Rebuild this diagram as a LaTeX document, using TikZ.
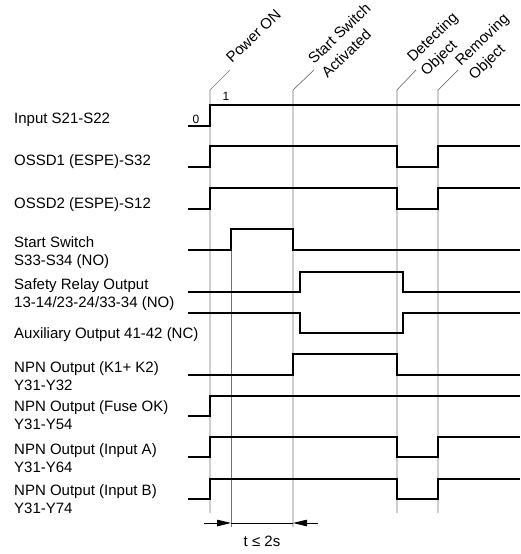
\documentclass[tikz,border=0pt]{standalone}
\usepackage{fontspec}
\setmainfont{Liberation Sans}
\usetikzlibrary{arrows.meta,positioning}

\begin{document}
\begin{tikzpicture}[x=1pt, y=-1pt, every node/.style={font=\fontsize{15}{18}\selectfont, inner sep=0pt}, lbl/.style={anchor=base west, align=left}, evt/.style={anchor=base west, rotate=44, font=\fontsize{15}{19.5}\selectfont}, lvl/.style={font=\fontsize{12}{14}\selectfont, anchor=base}, sig/.style={line width=1.8pt}, grid/.style={black!55, line width=0.7pt}, dim/.style={line width=0.8pt}, tip/.style={-{Triangle[length=14pt,width=6.5pt]}, line width=0.8pt}]
\useasboundingbox (0,0) rectangle (520,554);

% signal names (base = last line)
\node[lbl] (in) at (14,123) {Input S21-S22};
\node[lbl] (ossda) at (14,165) {OSSD1 (ESPE)-S32};
\node[lbl] (ossdb) at (14,208) {OSSD2 (ESPE)-S12};
\node[lbl] (start) at (14,265) {Start Switch\\S33-S34 (NO)};
\node[lbl] (relay) at (14,307) {Safety Relay Output\\13-14/23-24/33-34 (NO)};
\node[lbl] (aux) at (14,338) {Auxiliary Output 41-42 (NC)};
\node[lbl] (npnk) at (14,390) {NPN Output (K1+ K2)\\Y31-Y32};
\node[lbl] (npnf) at (14,429) {NPN Output (Fuse OK)\\Y31-Y54};
\node[lbl] (npna) at (14,472) {NPN Output (Input A)\\Y31-Y64};
\node[lbl] (npnb) at (14,513) {NPN Output (Input B)\\Y31-Y74};

% event lines
\draw[grid] (210,513) -- (210,90) -- ++(20,-20) coordinate (pwl);
\draw[grid] (293,527) -- (293,90) -- ++(21,-20) coordinate (ssl);
\draw[grid] (397,513) -- (397,90) -- ++(19,-20) coordinate (del);
\draw[grid] (438,513) -- (438,90) -- ++(20,-20) coordinate (rml);
\draw[grid] (231,229) -- (231,527);
\node[evt] (pw) at ([shift={(2,-6)}]pwl) {Power ON};
\node[evt] (ss) at ([shift={(0,-5)}]ssl) {\begin{tabular}[t]{@{}l@{}}Start Switch\\Activated\end{tabular}};
\node[evt] (de) at ([shift={(-3,-7)}]del) {\begin{tabular}[t]{@{}l@{}}Detecting\\Object\end{tabular}};
\node[evt] (rm) at ([shift={(3,-3)}]rml) {\begin{tabular}[t]{@{}l@{}}Removing\\Object\end{tabular}};

% signals
\draw[sig] (188,126) -- (210,126) -- (210,105) -- (520,105);
\node[lvl] (lo) at (196,123) {0};
\node[lvl] (hi) at (226,100) {1};
\draw[sig] (188,167) -- (210,167) -- (210,146) -- (397,146) -- (397,167) -- (438,167) -- (438,146) -- (520,146);
\draw[sig] (188,209) -- (210,209) -- (210,188) -- (397,188) -- (397,209) -- (438,209) -- (438,188) -- (520,188);
\draw[sig] (188,250) -- (231,250) -- (231,229) -- (293,229) -- (293,250) -- (520,250);
\draw[sig] (188,292) -- (300,292) -- (300,272) -- (403,272) -- (403,292) -- (520,292);
\draw[sig] (188,313) -- (300,313) -- (300,333) -- (403,333) -- (403,313) -- (520,313);
\draw[sig] (188,375) -- (293,375) -- (293,354) -- (397,354) -- (397,375) -- (520,375);
\draw[sig] (188,416) -- (210,416) -- (210,396) -- (520,396);
\draw[sig] (188,457) -- (210,457) -- (210,437) -- (397,437) -- (397,457) -- (438,457) -- (438,437) -- (520,437);
\draw[sig] (188,499) -- (210,499) -- (210,479) -- (397,479) -- (397,499) -- (438,499) -- (438,479) -- (520,479);

% timing
\coordinate (ta) at (231,523);
\coordinate (tb) at (293,523);
\draw[tip] ([xshift=-27pt]ta) -- (ta);
\draw[tip] ([xshift=25pt]tb) -- (tb);
\draw[dim] (ta) -- (tb);
\node (t) at (262,541) {t ≤ 2s};
\end{tikzpicture}
\end{document}
